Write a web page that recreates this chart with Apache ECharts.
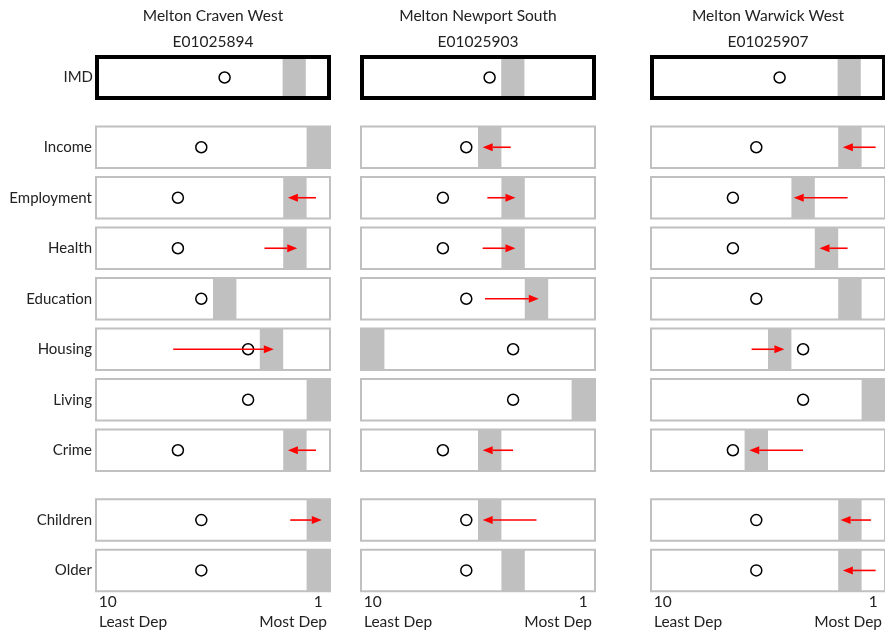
<!DOCTYPE html>
<html lang="en">
<head>
    <meta charset="utf-8">
    <title>Deprivation deciles</title>
    <script src="https://cdn.jsdelivr.net/npm/echarts@6/dist/echarts.min.js"></script>
</head>
<body style="margin:0; background:#fff;">
<div id="main" style="width: 885px; height: 634px;"></div>
<script type="text/javascript">
    // rows, areas
    const rows = ['IMD', 'Income', 'Employment', 'Health', 'Education', 'Housing', 'Living', 'Crime', 'Children', 'Older'];
    const areaNames = ['Melton Craven West', 'Melton Newport South', 'Melton Warwick West'];
    const areaCodes = ['E01025894', 'E01025903', 'E01025907'];
    const axisTicks = [10, 1];

    // circle = district reference decile (same in every panel)
    const refDecile = [5, 6, 7, 7, 6, 4, 4, 7, 6, 6];

    // grey band = decile of the area
    const decileCraven = [2, 1, 2, 2, 5, 3, 1, 2, 1, 1];
    const decileNewport = [4, 5, 4, 4, 3, 10, 1, 5, 5, 4];
    const decileWarwick = [2, 2, 4, 3, 2, 5, 1, 6, 2, 2];

    // red arrows: start and tip (decile scale), null = no arrow
    const fromCraven = [null, null, 1.1, 3.3, null, 7.2, null, 1.1, 2.2, null];
    const toCraven = [null, null, 2.3, 1.9, null, 2.9, null, 2.3, 0.85, null];
    const fromNewport = [null, 4.1, 5.1, 5.3, 5.2, null, null, 4.0, 3.0, null];
    const toNewport = [null, 5.3, 3.9, 3.9, 2.9, null, null, 5.3, 5.3, null];
    const fromWarwick = [null, 0.9, 2.1, 2.1, null, 6.2, null, 4.0, 1.1, 0.9];
    const toWarwick = [null, 2.3, 4.4, 3.3, null, 4.8, null, 6.3, 2.4, 2.3];

    const deciles = [decileCraven, decileNewport, decileWarwick];
    const arrowFrom = [fromCraven, fromNewport, fromWarwick];
    const arrowTo = [toCraven, toNewport, toWarwick];

    // layout
    const font = 'Lato, "Open Sans", sans-serif';
    const panelLeft = [96, 361, 651];
    const panelWidth = 234;
    const rowTop = [57, 126.5, 177, 227.5, 278, 328.5, 379, 429.5, 499.3, 549.7];

    function renderArrow(params, api) {
        const a = api.coord([api.value(0), 0]);
        const b = api.coord([api.value(1), 0]);
        const dir = b[0] > a[0] ? 1 : -1;
        const base = b[0] - dir * 10;
        return {
            type: 'group',
            children: [{
                type: 'line',
                shape: {x1: a[0], y1: a[1], x2: base, y2: b[1]},
                style: {stroke: '#ff0000', lineWidth: 1.6}
            }, {
                type: 'polygon',
                shape: {points: [[b[0], b[1]], [base, b[1] - 4], [base, b[1] + 4]]},
                style: {fill: '#ff0000'}
            }]
        };
    }

    let myChart = echarts.init(document.getElementById('main'));

    const grids = [], xAxes = [], yAxes = [], series = [], titles = [], texts = [];
    let g = 0;
    for (let p = 0; p < 3; p++) {
        titles.push({
            text: areaNames[p], subtext: areaCodes[p],
            left: panelLeft[p] + panelWidth / 2, top: 8, padding: 0,
            textAlign: 'center', itemGap: 10,
            textStyle: {fontSize: 15.5, fontWeight: 'normal', color: '#222', fontFamily: font},
            subtextStyle: {fontSize: 15.5, color: '#222', fontFamily: font}
        });
        for (let r = 0; r < rows.length; r++) {
            const isImd = r === 0;
            const isLast = r === rows.length - 1;
            grids.push({
                show: true, z: 10,
                left: isImd ? panelLeft[p] + 1 : panelLeft[p],
                width: isImd ? panelWidth - 2 : panelWidth,
                top: rowTop[r], height: isImd ? 41 : 41.5,
                borderColor: isImd ? '#000' : '#c0c0c0',
                borderWidth: isImd ? 4 : 2,
                backgroundColor: 'transparent'
            });
            xAxes.push({
                gridIndex: g, type: 'value', min: 0.5, max: 10.5, inverse: true,
                show: isLast,
                axisLine: {show: false}, axisTick: {show: false}, splitLine: {show: false},
                axisLabel: {
                    show: isLast, customValues: axisTicks, margin: 3,
                    fontSize: 15.5, color: '#222', fontFamily: font
                }
            });
            yAxes.push({
                gridIndex: g, type: 'category', data: [rows[r]],
                axisLine: {show: false}, axisTick: {show: false}, splitLine: {show: false},
                axisLabel: {show: p === 0, margin: 4, fontSize: 15, color: '#222', fontFamily: font}
            });
            const d = deciles[p][r];
            series.push({
                type: 'scatter', xAxisIndex: g, yAxisIndex: g,
                data: [[refDecile[r], 0]],
                symbol: 'circle', symbolSize: 11,
                itemStyle: {color: '#fff', borderColor: '#000', borderWidth: 1.5, opacity: 1},
                z: 5, silent: true,
                markArea: {
                    silent: true,
                    itemStyle: {color: '#c0c0c0'},
                    data: [[{xAxis: d + 0.5}, {xAxis: d - 0.5}]]
                }
            });
            if (arrowFrom[p][r] !== null) {
                series.push({
                    type: 'custom', xAxisIndex: g, yAxisIndex: g,
                    data: [[arrowFrom[p][r], arrowTo[p][r]]],
                    renderItem: renderArrow,
                    z: 6, silent: true
                });
            }
            g++;
        }
        texts.push({
            type: 'text', left: panelLeft[p] + 3, top: 614,
            style: {text: 'Least Dep', fontSize: 15.5, fill: '#222', fontFamily: font}
        });
        texts.push({
            type: 'text', right: 885 - (panelLeft[p] + panelWidth - 3), top: 614,
            style: {text: 'Most Dep', fontSize: 15.5, fill: '#222', fontFamily: font}
        });
    }

    const option = {
        animation: false,
        title: titles,
        grid: grids,
        xAxis: xAxes,
        yAxis: yAxes,
        series: series,
        graphic: texts
    };
    myChart.setOption(option);
</script>
</body>
</html>
